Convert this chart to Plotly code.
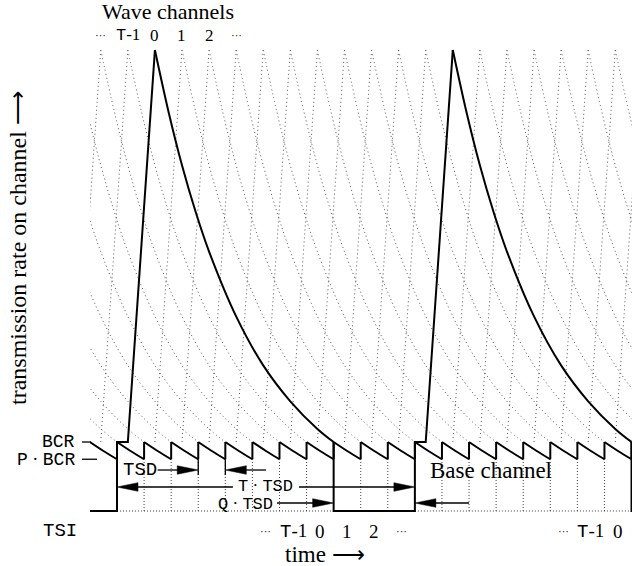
import plotly.graph_objects as go

# ---- transmission scheme (time in slots, rate in units of BCR) ----
P = 0.75                 # rate factor left after one slot of decay
T_SLOTS = 11             # slots per wave period
Q_SLOTS = 3              # slots at the end of a period with base channel only
RAMP_START = 0.4         # start of the wave ramp inside the first slot
PEAK_TIME = 1.4          # time of the wave peak inside a period
tooth_t = [0.0, 0.5, 1.0]
tooth_rate = [1.0, 0.87, 0.75]
decay_t = [0.0, 0.5, 1.0, 1.5, 2.0, 3.0, 4.0, 5.0, 6.0, 6.6]
decay_rate = [6.68, 5.79, 5.01, 4.34, 3.76, 2.82, 2.11, 1.59, 1.19, 1.0]
first_slot, last_slot = -1, 19
periods = [0, 1, 2]

wave_labels = ["···", "T-1", "0", "1", "2", "···"]
wave_label_channels = [-2, -1, 0, 1, 2, 3]
slot_labels = ["···", "T-1", "0", "1", "2", "···", "···", "T-1", "0"]
slot_label_slots = [5, 6, 7, 8, 9, 10, 16, 17, 18]

# ---- page geometry ----
FIG_W, FIG_H = 632, 566
PLOT_L = 90
SLOT_PX = 27.08
ORIGIN_PX = 117.0
BASE_PX = 511.0
UNIT_PX = 69.0
x_range = [(PLOT_L - ORIGIN_PX) / SLOT_PX, (FIG_W - ORIGIN_PX) / SLOT_PX]
y_range = [(BASE_PX - FIG_H) / UNIT_PX, BASE_PX / UNIT_PX]


def fx(px):
    return (px - PLOT_L) / (FIG_W - PLOT_L)


def fy(py):
    return 1 - py / FIG_H


SERIF = "Liberation Serif"
MONO = "Liberation Mono"
DOT = dict(color="#555555", width=1, dash="1px,3px")
SOLID = dict(color="black", width=2)

fig = go.Figure()

# dotted wave channels (all channels except channel 0)
rx, ry, dx, dy = [], [], [], []
for j in range(first_slot - 8, last_slot):
    if j % T_SLOTS == 0:
        continue
    pk = j + PEAK_TIME
    rx += [j + RAMP_START, pk, None]
    ry += [tooth_rate[0], decay_rate[0], None]
    dx += [pk + d for d in decay_t] + [None]
    dy += decay_rate + [None]
fig.add_trace(go.Scatter(x=rx, y=ry, mode="lines", line=DOT))
fig.add_trace(go.Scatter(x=dx, y=dy, mode="lines", line=dict(DOT, shape="spline")))

# dotted slot boundaries and TSI baseline
vx, vy = [], []
for k in range(first_slot + 2, last_slot):
    if k % T_SLOTS in (0, T_SLOTS - Q_SLOTS):
        continue
    vx += [k, k, None]
    vy += [0, P, None]
for p in periods[:-1]:
    s = p * T_SLOTS
    vx += [s, s + T_SLOTS - Q_SLOTS, None]
    vy += [0, 0, None]
fig.add_trace(go.Scatter(x=vx, y=vy, mode="lines",
                         line=dict(color="#444444", width=1, dash="1px,2px")))

# base channel sawtooth
tx, ty, jx, jy = [], [], [], []
for k in range(first_slot, last_slot):
    tx += [k + u for u in tooth_t] + [None]
    ty += tooth_rate + [None]
    jx += [k + 1, k + 1, None]
    jy += [tooth_rate[-1], tooth_rate[0], None]
fig.add_trace(go.Scatter(x=tx, y=ty, mode="lines", line=dict(SOLID, shape="spline")))
fig.add_trace(go.Scatter(x=jx, y=jy, mode="lines", line=SOLID))

# wave channel 0 with its base-only gap
ex, ey, sx, sy = [], [], [], []
for p in periods:
    s = p * T_SLOTS
    ex += [s - Q_SLOTS, s - Q_SLOTS, s, s, s + RAMP_START, s + PEAK_TIME, None]
    ey += [tooth_rate[0], 0, 0, tooth_rate[0], tooth_rate[0], decay_rate[0], None]
    sx += [s + PEAK_TIME + d for d in decay_t] + [None]
    sy += decay_rate + [None]
fig.add_trace(go.Scatter(x=ex, y=ey, mode="lines", line=SOLID))
fig.add_trace(go.Scatter(x=sx, y=sy, mode="lines", line=dict(SOLID, shape="spline")))

# ---- dimension arrows ----
HEAD_L = 21 / SLOT_PX
HEAD_W = 4.3 / UNIT_PX
shapes = []


def arrow(x_tail, x_tip, y):
    d = 1 if x_tip > x_tail else -1
    shapes.append(dict(type="line", x0=x_tail, x1=x_tip - d * HEAD_L * 0.5, y0=y, y1=y,
                       line=dict(color="black", width=1.3)))
    shapes.append(dict(type="path",
                       path=f"M {x_tip},{y} L {x_tip - d * HEAD_L},{y + HEAD_W} "
                            f"L {x_tip - d * HEAD_L},{y - HEAD_W} Z",
                       fillcolor="black", line=dict(color="black", width=0.5)))


Y_TSD, Y_T, Y_Q = 0.594, 0.348, 0.116
arrow(1.5, 3, Y_TSD)
arrow(5.5, 4, Y_TSD)
arrow(4.28, 0, Y_T)
arrow(6.72, T_SLOTS, Y_T)
arrow(5.91, T_SLOTS - Q_SLOTS, Y_Q)
arrow(13, T_SLOTS, Y_Q)
for k in (3, 4):
    shapes.append(dict(type="line", x0=k, x1=k, y0=P, y1=0.52,
                       line=dict(color="black", width=1.3)))

# level ticks for BCR and P*BCR
shapes.append(dict(type="line", xref="paper", yref="y", x0=fx(82), x1=fx(91), y0=1, y1=1,
                   line=dict(color="black", width=1.3)))
shapes.append(dict(type="line", xref="paper", yref="y", x0=fx(82), x1=fx(97), y0=P, y1=P,
                   line=dict(color="black", width=1.3)))

# ---- text ----
ann = []


def text(s, x, y, size, family, xref="x", yref="y", xanchor="center", angle=0):
    ann.append(dict(text=s, x=x, y=y, xref=xref, yref=yref, showarrow=False,
                    xanchor=xanchor, yanchor="middle", textangle=angle,
                    font=dict(family=family, size=size, color="black")))


def mixed(s):
    # typewriter "T" with a roman "-1"
    return s.replace("T-1", f"T<span style=\"font-family:{SERIF}\">-1</span>")


text("Wave channels", fx(168), fy(11.5), 22, SERIF, xref="paper", yref="paper")
for lab, ch in zip(wave_labels, wave_label_channels):
    size = 11 if lab == "···" else 17
    text(mixed(lab), ch + PEAK_TIME, fy(35), size, MONO if lab == "T-1" else SERIF, yref="paper")
for lab, k in zip(slot_labels, slot_label_slots):
    size = 11 if lab == "···" else 19
    text(mixed(lab), k + 0.5, fy(531), size, MONO if lab == "T-1" else SERIF, yref="paper")
text("TSI", fx(60), fy(531), 19, MONO, xref="paper", yref="paper")
text("BCR", fx(77), 1.0, 18, MONO, xref="paper", xanchor="right")
text(f"P<span style=\"font-family:{SERIF}\"> · </span>BCR", fx(77), P, 18, MONO,
     xref="paper", xanchor="right")
text("TSD", 0.85, Y_TSD, 19, MONO)
text(f"T<span style=\"font-family:{SERIF}\"> · </span>TSD", 5.5, Y_T + 1.2 / UNIT_PX, 17, MONO)
text(f"Q<span style=\"font-family:{SERIF}\"> · </span>TSD", 4.73, Y_Q - 1.2 / UNIT_PX, 17, MONO)
text("Base channel", 13.8, Y_TSD, 23, SERIF)
text("time ⟶", fx(325), fy(554), 23, SERIF, xref="paper", yref="paper")
text("transmission rate on channel ⟶", fx(18), fy(248), 24, SERIF,
     xref="paper", yref="paper", angle=-90)

fig.update_layout(
    width=FIG_W, height=FIG_H,
    margin=dict(l=PLOT_L, r=0, t=0, b=0),
    paper_bgcolor="white", plot_bgcolor="white",
    showlegend=False,
    xaxis=dict(range=x_range, visible=False, fixedrange=True),
    yaxis=dict(range=y_range, visible=False, fixedrange=True),
    shapes=shapes,
    annotations=ann,
)
fig.write_html("out.html")
